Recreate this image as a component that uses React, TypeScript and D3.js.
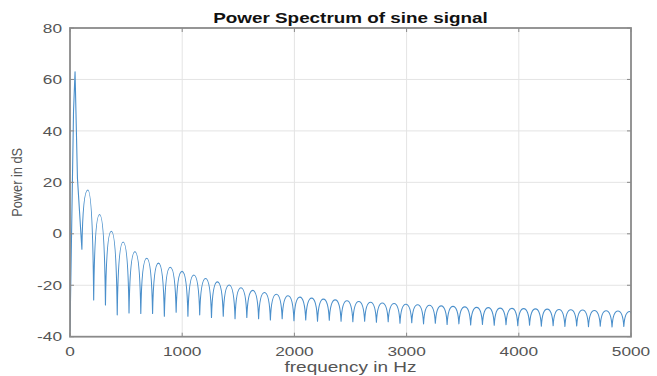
import React from "react";
import * as d3 from "d3";

const xTicks = [0, 1000, 2000, 3000, 4000, 5000];
const yTicks = [-40, -20, 0, 20, 40, 60, 80];
const titleText = "Power Spectrum of sine signal";
const xLabelText = "frequency in Hz";
const yLabelText = "Power in dS";

// spectrum: lobe nulls (Hz, dB) and lobe peaks (dB)
const startHz = 0;
const startDb = -38;
const mainPeakHz = 45;
const lastPeakHz = 4988;
const endHz = 5000;
const endDb = -31;

const nullHz = [
  106, 211, 316, 421, 526, 631, 736, 841, 946, 1051, 1156, 1261, 1366, 1471,
  1576, 1681, 1786, 1891, 1996, 2101, 2206, 2311, 2416, 2521, 2626, 2731, 2836,
  2941, 3046, 3151, 3256, 3361, 3466, 3571, 3676, 3781, 3886, 3991, 4096, 4201,
  4306, 4411, 4516, 4621, 4726, 4831, 4936,
];

const nullDb = [
  -6, -25.7, -27.7, -31.5, -30.8, -31, -31, -32, -30.5, -32, -31.5, -32.5, -32,
  -33, -32.5, -33, -33.5, -33, -33.8, -33.5, -34, -33.6, -34, -34.2, -34, -34.4,
  -34.2, -34.8, -34.6, -35, -34.8, -35.2, -35, -35.4, -35.2, -35.5, -35.3,
  -35.7, -35.5, -35.9, -35.7, -36, -35.8, -36.1, -35.9, -36.2, -36,
];

const peakDb = [
  63, 17, 7.5, 1.0, -3.2, -7.0, -9.5, -11.4, -13.0, -14.6, -16.0, -17.4, -18.7,
  -19.9, -21.0, -22.0, -22.8, -23.5, -24.1, -24.6, -25.0, -25.4, -25.7, -26.0,
  -26.3, -26.6, -26.9, -27.1, -27.4, -27.6, -27.8, -28.0, -28.2, -28.4, -28.6,
  -28.7, -28.9, -29.0, -29.1, -29.2, -29.3, -29.4, -29.5, -29.6, -29.8, -29.9,
  -30.0, -30.2,
];

const W = 657;
const H = 376;
const L = 70;
const R = 631;
const T = 28;
const B = 336.7;
const SX = 1.33;

const x = d3.scaleLinear().domain([0, 5000]).range([L, R]);
const y = d3.scaleLinear().domain([-40, 80]).range([B, T]);

function spectrumPath(): string {
  const p = d3.path();
  const edgesHz = [startHz, ...nullHz, endHz];
  const edgesDb = [startDb, ...nullDb, endDb];
  p.moveTo(x(edgesHz[0]), y(edgesDb[0]));
  const n = peakDb.length;
  for (let k = 0; k < n; k++) {
    const x0 = x(edgesHz[k]);
    const y0 = y(edgesDb[k]);
    const x2 = x(edgesHz[k + 1]);
    const y2 = y(edgesDb[k + 1]);
    let x1 = (x0 + x2) / 2;
    if (k === 0) x1 = x(mainPeakHz);
    if (k === n - 1) x1 = x(lastPeakHz);
    const y1 = y(peakDb[k]);
    if (k === 0) {
      // main lobe: a narrow spike
      p.lineTo(x0 + 0.7 * (x1 - x0), y0 + 0.85 * (y1 - y0));
      p.lineTo(x1, y1);
      p.lineTo(x1 + 0.35 * (x2 - x1), y1 + 0.6 * (y2 - y1));
      p.lineTo(x2, y2);
      continue;
    }
    p.bezierCurveTo(
      x0 + 0.1 * (x1 - x0), y0 + 0.6 * (y1 - y0),
      x0 + 0.4 * (x1 - x0), y1,
      x1, y1
    );
    p.bezierCurveTo(
      x1 + 0.6 * (x2 - x1), y1,
      x2 - 0.1 * (x2 - x1), y2 + 0.6 * (y1 - y2),
      x2, y2
    );
  }
  return p.toString();
}

export default function App() {
  const font = "'Liberation Sans', Arial, Helvetica, sans-serif";
  const tickLen = 4;
  return (
    <svg
      width={W}
      height={H}
      style={{ position: "absolute", left: 0, top: 0, background: "#fff" }}
      fontFamily={font}
    >
      <defs>
        <clipPath id="plotClip">
          <rect x={L} y={T} width={R - L} height={B - T} />
        </clipPath>
      </defs>
      <rect x={0} y={0} width={W} height={H} fill="#fff" />
      {/* grid */}
      {xTicks.slice(1, -1).map((t) => (
        <line key={"gx" + t} x1={x(t)} x2={x(t)} y1={T} y2={B} stroke="#e4e4e4" strokeWidth={1} />
      ))}
      {yTicks.slice(1, -1).map((t) => (
        <line key={"gy" + t} x1={L} x2={R} y1={y(t)} y2={y(t)} stroke="#e4e4e4" strokeWidth={1} />
      ))}
      {/* data */}
      <path
        d={spectrumPath()}
        fill="none"
        stroke="#4a8fcb"
        strokeWidth={1.1}
        strokeLinejoin="round"
        clipPath="url(#plotClip)"
      />
      {/* box */}
      <rect x={L} y={T} width={R - L} height={B - T} fill="none" stroke="#8a8a8a" strokeWidth={1.8} />
      {/* ticks */}
      {xTicks.map((t) => (
        <g key={"tx" + t}>
          <line x1={x(t)} x2={x(t)} y1={B} y2={B - tickLen} stroke="#8a8a8a" strokeWidth={1} />
          <line x1={x(t)} x2={x(t)} y1={T} y2={T + tickLen} stroke="#8a8a8a" strokeWidth={1} />
          <g transform={`translate(${x(t)},${355.5}) scale(${SX},1)`}>
            <text textAnchor="middle" fontSize={13} fill="#555">{t}</text>
          </g>
        </g>
      ))}
      {yTicks.map((t) => (
        <g key={"ty" + t}>
          <line x1={L} x2={L + tickLen} y1={y(t)} y2={y(t)} stroke="#8a8a8a" strokeWidth={1} />
          <line x1={R} x2={R - tickLen} y1={y(t)} y2={y(t)} stroke="#8a8a8a" strokeWidth={1} />
          <g transform={`translate(${62},${y(t) + 4.6}) scale(${SX},1)`}>
            <text textAnchor="end" fontSize={13} fill="#555">{t}</text>
          </g>
        </g>
      ))}
      {/* title */}
      <g transform={`translate(${(L + R) / 2},${23}) scale(${SX},1)`}>
        <text textAnchor="middle" fontSize={14.2} fontWeight="bold" fill="#111">{titleText}</text>
      </g>
      {/* x label */}
      <g transform={`translate(${(L + R) / 2},${372}) scale(${SX},1)`}>
        <text textAnchor="middle" fontSize={14.3} fill="#555">{xLabelText}</text>
      </g>
      {/* y label */}
      <g transform={`translate(${22},${(T + B) / 2}) scale(1.15,1) rotate(-90)`}>
        <text textAnchor="middle" fontSize={12.8} fill="#555">{yLabelText}</text>
      </g>
    </svg>
  );
}
